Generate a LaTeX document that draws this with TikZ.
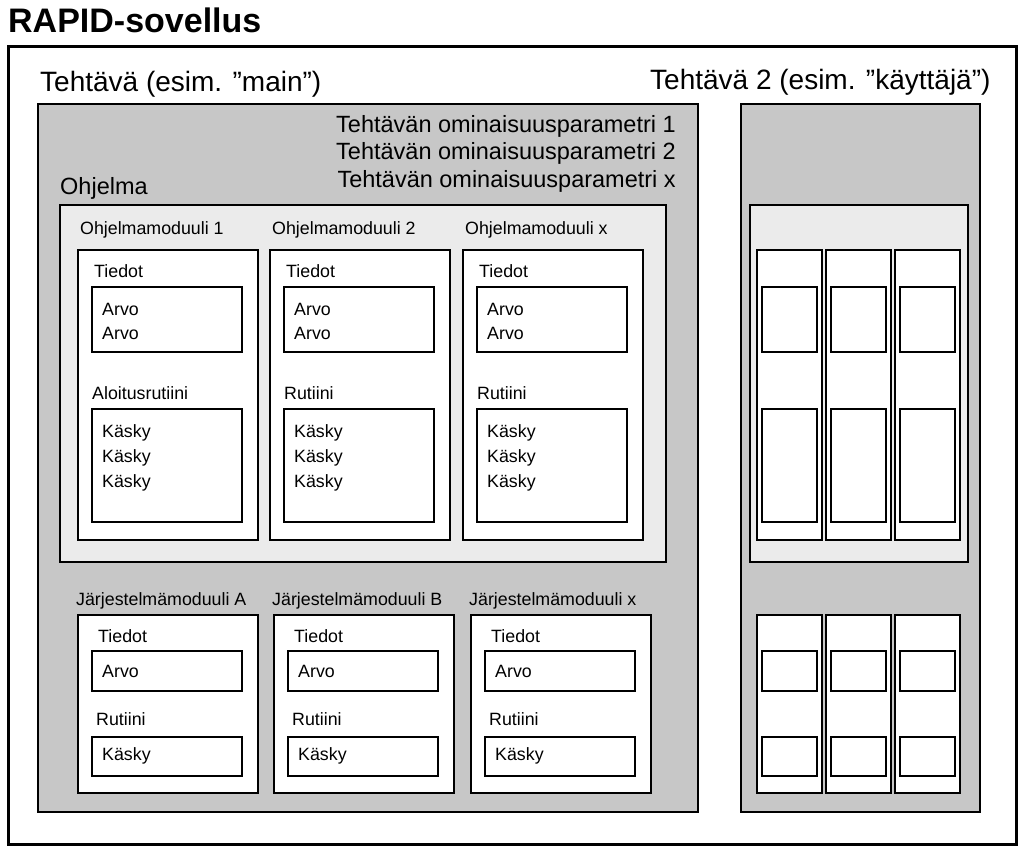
\documentclass[tikz,border=0pt]{standalone}
\usepackage{fontspec}
\setmainfont{Liberation Sans}
\usetikzlibrary{positioning}
\tikzset{
	frame/.style={draw=black,line width=2pt},
	taskbox/.style={frame,fill=black!22},
	progbox/.style={frame,fill=black!8},
	modbox/.style={frame,fill=white},
	lbl/.style={anchor=west,inner sep=0pt,font=\fontsize{17.8}{17.8}\selectfont},
	biglbl/.style={anchor=west,inner sep=0pt,font=\fontsize{23.5}{23.5}\selectfont}
}
\newcommand{\qq}{\symbol{34}}
\begin{document}
\begin{tikzpicture}[x=1pt,y=-1pt]
\useasboundingbox (0,0) rectangle (1024,854);
%%%% application
\node[anchor=west,inner sep=0pt,font=\bfseries\fontsize{34}{34}\selectfont] (app) at (8,20) {RAPID-sovellus};
\draw[frame,line width=3pt] (8,46) rectangle (1016,844);

%%%% task 1
\node[anchor=west,inner sep=0pt,font=\fontsize{28}{28}\selectfont] (t1) at (40,84) {Tehtävä (esim. \qq main\qq)};
\draw[taskbox] (38,104) rectangle (698,812);
\foreach \y/\n in {126/1,153/2,181/x}
	\node[biglbl,anchor=east] (par\n) at (676,\y) {Tehtävän ominaisuusparametri \n};
\node[biglbl] (prog) at (60,188) {Ohjelma};
\draw[progbox] (60,205) rectangle (666,562);

%%%% program modules
\foreach \x/\w/\n/\r in {78/180/1/Aloitusrutiini,270/180/2/Rutiini,463/180/x/Rutiini}{
	\node[lbl] (pm\n) at (\x+2,230) {Ohjelmamoduuli \n};
	\draw[modbox] (\x,250) rectangle (\x+\w,540);
	\node[lbl] (pmd\n) at (\x+16,271) {Tiedot};
	\draw[modbox] (\x+14,287) rectangle (\x+164,352);
	\node[lbl] (pmv\n) at (\x+24,309) {Arvo};
	\node[lbl] (pmw\n) at (\x+24,333) {Arvo};
	\node[lbl] (pmr\n) at (\x+14,393) {\r};
	\draw[modbox] (\x+14,409) rectangle (\x+164,522);
	\foreach \k/\yy in {a/433,b/458,c/483}
		\node[lbl] (pmk\n\k) at (\x+24,\yy) {Käsky};
}

%%%% system modules
\foreach \x/\n in {78/A,274/B,471/x}{
	\node[lbl] (sm\n) at (\x-2,601) {Järjestelmämoduuli \n};
	\draw[modbox] (\x,615) rectangle (\x+180,793);
	\node[lbl] (smd\n) at (\x+20,636) {Tiedot};
	\draw[modbox] (\x+14,651) rectangle (\x+164,691);
	\node[lbl] (smv\n) at (\x+24,671) {Arvo};
	\node[lbl] (smr\n) at (\x+18,719) {Rutiini};
	\draw[modbox] (\x+14,737) rectangle (\x+164,776);
	\node[lbl] (smk\n) at (\x+24,756) {Käsky};
}

%%%% task 2
\node[anchor=west,inner sep=0pt,font=\fontsize{28}{28}\selectfont] (t2) at (650,82) {Tehtävä 2 (esim. \qq käyttäjä\qq)};
\draw[taskbox] (741,104) rectangle (980,812);
\draw[progbox] (750,205) rectangle (968,562);
\foreach \x in {757,826,895}{
	\draw[modbox] (\x,250) rectangle (\x+65,540);
	\draw[modbox] (\x+5,287) rectangle (\x+60,352);
	\draw[modbox] (\x+5,409) rectangle (\x+60,522);
	\draw[modbox] (\x,615) rectangle (\x+65,793);
	\draw[modbox] (\x+5,651) rectangle (\x+60,691);
	\draw[modbox] (\x+5,737) rectangle (\x+60,776);
}
\end{tikzpicture}
\end{document}
